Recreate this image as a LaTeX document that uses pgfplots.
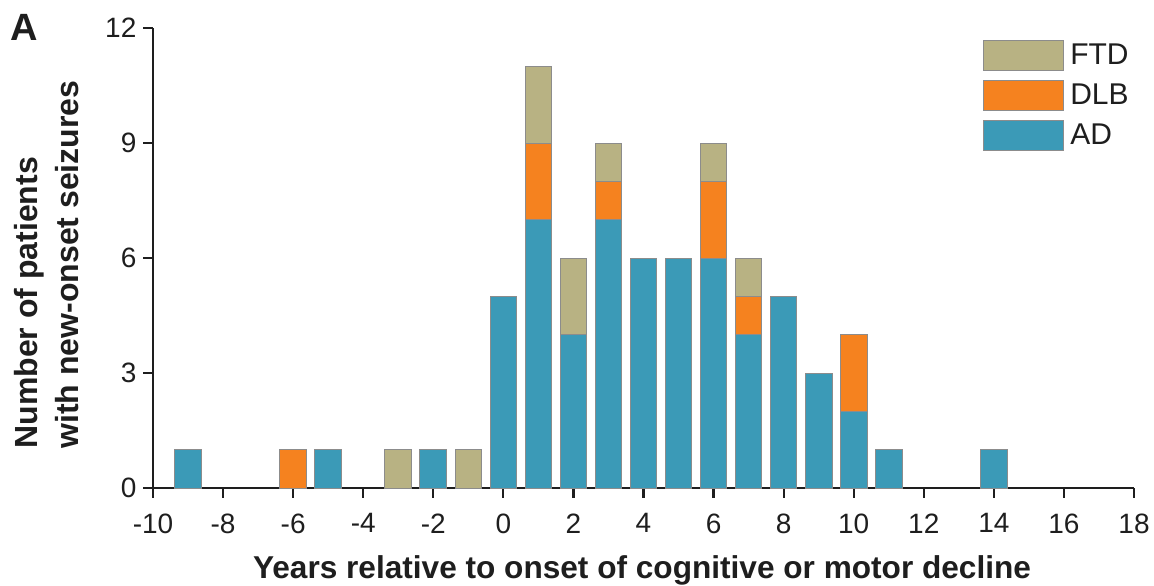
\documentclass[border=0pt]{standalone}
\usepackage{pgfplots}
\usepackage{pgfplotstable}
\pgfplotsset{compat=1.18}
\usepackage{fontspec}
\setmainfont{Liberation Sans}
\definecolor{ad}{RGB}{59,154,183}
\definecolor{dlb}{RGB}{245,130,31}
\definecolor{ftd}{RGB}{184,178,131}
\definecolor{axc}{RGB}{30,30,30}
\definecolor{barline}{RGB}{140,140,140}
\pgfplotstableread{
x AD DLB FTD
-9 1 0 0
-6 0 1 0
-5 1 0 0
-3 0 0 1
-2 1 0 0
-1 0 0 1
0 5 0 0
1 7 2 2
2 4 0 2
3 7 1 1
4 6 0 0
5 6 0 0
6 6 2 1
7 4 1 1
8 5 0 0
9 3 0 0
10 2 2 0
11 1 0 0
14 1 0 0
}\data
\begin{document}
\begin{tikzpicture}
\useasboundingbox (-76.5pt,-48.5pt) rectangle (500.5pt,244pt);
\begin{axis}[
  at={(0,0)}, anchor=south west,
  scale only axis, width=490.5pt, height=230pt,
  xmin=-10, xmax=18, ymin=0, ymax=12,
  clip=false,
  axis lines=left,
  axis line style={-, line width=1.3pt, draw=axc},
  xtick={-10,-8,...,18}, ytick={0,3,...,12},
  tick align=outside, major tick length=4.8pt,
  tick style={line width=1.1pt, draw=axc},
  minor tick num=0,
  ticklabel style={font=\fontsize{14}{16}\selectfont, text=axc},
  /pgf/number format/assume math mode=true,
  xticklabel style={yshift=-4.5pt},
  ybar stacked, bar width=0.76,
  mylegend/.style={legend image code/.code={%
    \draw[##1, draw=barline, line width=0.5pt] (0pt,-7.5pt) rectangle (40pt,7.5pt);}},
  reverse legend,
  legend style={at={(rel axis cs:0.846,0.974)}, anchor=north west,
    draw=none, fill=none, inner sep=0pt, row sep=4.5pt, column sep=1.5pt,
    font=\fontsize{15}{17}\selectfont, text=axc,
    cells={anchor=west}, nodes={inner sep=1.5pt}},
  xlabel={Years relative to onset of cognitive or motor decline},
  xlabel style={at={(axis description cs:0.4985,-0.19565)}, anchor=base,
    font=\bfseries\fontsize{15.8}{17}\selectfont, text=axc},
  ylabel={Number of patients\\with new-onset seizures},
  ylabel style={at={(axis description cs:-0.1080,0.0848)}, anchor=west,
    inner sep=0pt, align=left,
    font=\bfseries\fontsize{16}{20.5}\selectfont, text=axc},
]
\addplot[fill=ad, draw=barline, line width=0.5pt, mylegend] table[x=x, y=AD] {\data};
\addplot[fill=dlb, draw=barline, line width=0.5pt, mylegend] table[x=x, y=DLB] {\data};
\addplot[fill=ftd, draw=barline, line width=0.5pt, mylegend] table[x=x, y=FTD] {\data};
\legend{AD, DLB, FTD}
\node[anchor=base west, inner sep=0pt, font=\bfseries\fontsize{19}{19}\selectfont, text=axc,
  xshift=-71.5pt, yshift=-6pt] at (rel axis cs:0,1) {A};
\end{axis}
\end{tikzpicture}
\end{document}
